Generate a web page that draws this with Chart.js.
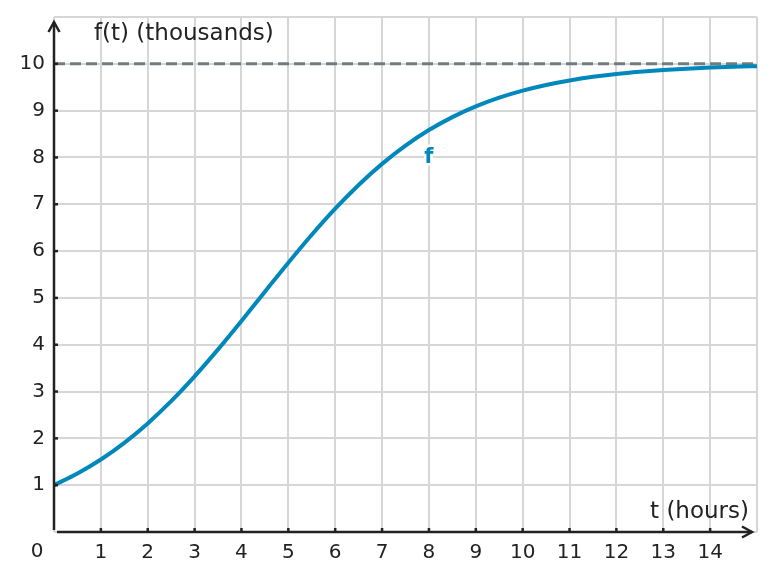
<!DOCTYPE html>
<html>
<head>
<meta charset="utf-8">
<script src="https://cdn.jsdelivr.net/npm/chart.js@4"></script>
<style>
  body { margin: 0; background: #fff; }
  canvas { display: block; }
</style>
</head>
<body>
<canvas id="logisticChart" width="775" height="581"></canvas>
<script>
// values
const hours = [0, 0.5, 1, 1.5, 2, 2.5, 3, 3.5, 4, 4.5, 5, 5.5, 6, 6.5, 7, 7.5,
               8, 8.5, 9, 9.5, 10, 10.5, 11, 11.5, 12, 12.5, 13, 13.5, 14, 14.5, 15];
const thousands = [1.0, 1.249, 1.548, 1.904, 2.32, 2.794, 3.324, 3.9, 4.508, 5.132, 5.751, 6.348, 6.906, 7.413, 7.863, 8.253,
                   8.585, 8.862, 9.091, 9.278, 9.428, 9.549, 9.645, 9.722, 9.782, 9.829, 9.867, 9.896, 9.919, 9.936, 9.95];
const carryingCapacity = 10;
const xTicks = [1, 2, 3, 4, 5, 6, 7, 8, 9, 10, 11, 12, 13, 14];
const yTicks = [1, 2, 3, 4, 5, 6, 7, 8, 9, 10];
const curveLabel = { text: 'f', x: 8, y: 8 };

const FONT = '"DejaVu Sans", sans-serif';
const INK = '#222';
const BLUE = '#0088bd';

// Axes with arrows, small tick marks, axis titles and the curve label
const axesPlugin = {
    id: 'axesPlugin',
    afterDatasetsDraw(chart) {
        const ctx = chart.ctx;
        const xs = chart.scales.x, ys = chart.scales.y;
        const x0 = xs.getPixelForValue(0), y0 = ys.getPixelForValue(0);
        const xEnd = xs.right - 5, yEnd = ys.top + 5;
        ctx.save();
        ctx.strokeStyle = INK;
        ctx.lineWidth = 2.5;
        ctx.lineCap = 'butt';
        // y axis
        ctx.beginPath();
        ctx.moveTo(x0, y0 - 2);
        ctx.lineTo(x0, yEnd);
        ctx.stroke();
        // x axis
        ctx.beginPath();
        ctx.moveTo(x0 + 3, y0);
        ctx.lineTo(xEnd, y0);
        ctx.stroke();
        // arrow heads
        ctx.lineJoin = 'miter';
        ctx.beginPath();
        ctx.moveTo(x0 - 5.5, yEnd + 10);
        ctx.lineTo(x0, yEnd);
        ctx.lineTo(x0 + 5.5, yEnd + 10);
        ctx.stroke();
        ctx.beginPath();
        ctx.moveTo(xEnd - 10, y0 - 5.5);
        ctx.lineTo(xEnd, y0);
        ctx.lineTo(xEnd - 10, y0 + 5.5);
        ctx.stroke();
        // tick marks
        xTicks.forEach(v => {
            const px = xs.getPixelForValue(v);
            ctx.beginPath();
            ctx.moveTo(px, y0);
            ctx.lineTo(px, y0 - 4);
            ctx.stroke();
        });
        yTicks.forEach(v => {
            const py = ys.getPixelForValue(v);
            ctx.beginPath();
            ctx.moveTo(x0, py);
            ctx.lineTo(x0 + 4, py);
            ctx.stroke();
        });
        // origin label
        ctx.fillStyle = INK;
        ctx.font = '20px ' + FONT;
        ctx.textAlign = 'center';
        ctx.textBaseline = 'middle';
        ctx.fillText('0', x0 - 17, y0 + 20);
        // axis titles
        ctx.font = '23px ' + FONT;
        ctx.textAlign = 'left';
        ctx.fillText('f(t) (thousands)', x0 + 40, ys.top + 17);
        ctx.textAlign = 'right';
        ctx.fillText('t (hours)', xs.right - 8, y0 - 20);
        // curve label with white halo
        const lx = xs.getPixelForValue(curveLabel.x), ly = ys.getPixelForValue(curveLabel.y);
        ctx.font = 'bold 21px ' + FONT;
        ctx.textAlign = 'center';
        ctx.lineWidth = 5;
        ctx.strokeStyle = '#fff';
        ctx.lineJoin = 'round';
        ctx.strokeText(curveLabel.text, lx, ly);
        ctx.fillStyle = BLUE;
        ctx.fillText(curveLabel.text, lx, ly);
        ctx.restore();
    }
};

const ctx = document.getElementById('logisticChart').getContext('2d');
new Chart(ctx, {
    type: 'scatter',
    data: {
        datasets: [
            {
                label: 'asymptote',
                data: [{ x: 0, y: carryingCapacity }, { x: 15, y: carryingCapacity }],
                showLine: true,
                borderColor: '#737b82',
                borderWidth: 3,
                borderDash: [11, 5],
                pointRadius: 0,
                order: 2
            },
            {
                label: 'f',
                data: hours.map((h, i) => ({ x: h, y: thousands[i] })),
                showLine: true,
                borderColor: BLUE,
                borderWidth: 4,
                cubicInterpolationMode: 'monotone',
                pointRadius: 0,
                clip: false,
                order: 1
            }
        ]
    },
    options: {
        responsive: false,
        animation: false,
        layout: { padding: { top: 17, right: 18, left: 0, bottom: 0 } },
        plugins: {
            legend: { display: false },
            tooltip: { enabled: false }
        },
        scales: {
            x: {
                type: 'linear',
                min: 0,
                max: 15,
                afterFit: s => { s.height = 49; s.paddingLeft = 0; s.paddingRight = 0; },
                border: { display: false },
                grid: { color: '#d6d6d6', lineWidth: 2, drawTicks: false },
                ticks: {
                    stepSize: 1,
                    padding: 9,
                    color: INK,
                    font: { family: FONT, size: 20 },
                    maxRotation: 0,
                    callback: v => xTicks.includes(v) ? v : ''
                }
            },
            y: {
                type: 'linear',
                min: 0,
                max: 11,
                afterFit: s => { s.width = 54; s.paddingTop = 0; s.paddingBottom = 0; },
                border: { display: false },
                grid: { color: '#d6d6d6', lineWidth: 2, drawTicks: false },
                ticks: {
                    stepSize: 1,
                    padding: 9,
                    color: INK,
                    font: { family: FONT, size: 20 },
                    callback: v => yTicks.includes(v) ? v : ''
                }
            }
        }
    },
    plugins: [axesPlugin]
});
</script>
</body>
</html>
